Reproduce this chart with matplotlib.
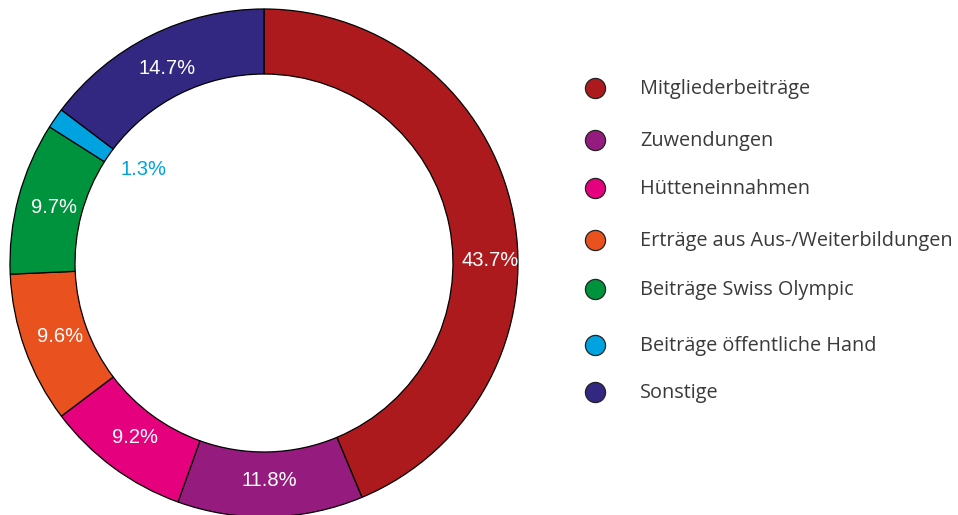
import numpy as np
import matplotlib.pyplot as plt

# Ertragsstruktur (Anteile in %)
categories = ["Mitgliederbeiträge", "Zuwendungen", "Hütteneinnahmen",
              "Erträge aus Aus-/Weiterbildungen", "Beiträge Swiss Olympic",
              "Beiträge öffentliche Hand", "Sonstige"]
shares = [43.7, 11.8, 9.2, 9.6, 9.7, 1.3, 14.7]
colors = ["#ad1a1e", "#951b7f", "#e5007e", "#e9511e", "#00933e", "#00a2e0", "#322882"]

W, H = 958, 515
fig = plt.figure(figsize=(W / 100, H / 100), dpi=100)

# donut: centre (264, 263) px, outer radius 254 px
cx, cy, R = 264, 263, 254
ax = fig.add_axes([(cx - R) / W, (H - cy - R) / H, 2 * R / W, 2 * R / H])
wedges, texts, autotexts = ax.pie(
    shares, colors=colors, startangle=90, counterclock=False,
    wedgeprops=dict(width=0.256, edgecolor="black", linewidth=0.9),
    autopct="%.1f%%", pctdistance=0.855,
    textprops=dict(color="white", fontsize=14.5, family="Liberation Sans"))
ax.set_xlim(-1, 1)
ax.set_ylim(-1, 1)
ax.set_aspect("equal")

# label placement like the original
for w, t, s in zip(wedges, autotexts, shares):
    if s < 3:
        ang = np.deg2rad((w.theta1 + w.theta2) / 2 - 3)
        t.set_position((0.6 * np.cos(ang), 0.6 * np.sin(ang)))
        t.set_color(w.get_facecolor())
    elif s > 40:
        t.set_position((0.89, 0.01))

# legend
leg_y = [88, 140, 188, 240, 289, 345, 392]
lax = fig.add_axes([0, 0, 1, 1])
lax.set_xlim(0, W)
lax.set_ylim(H, 0)
lax.axis("off")
for y, c, name in zip(leg_y, colors, categories):
    lax.scatter([595], [y], s=210, color=c, edgecolor="#222222", linewidth=0.9)
    lax.text(640, y + 1, name, fontsize=14.3, family="Open Sans",
             color="#3a3a3a", va="center", ha="left")

fig.savefig("out.png", dpi=100)
